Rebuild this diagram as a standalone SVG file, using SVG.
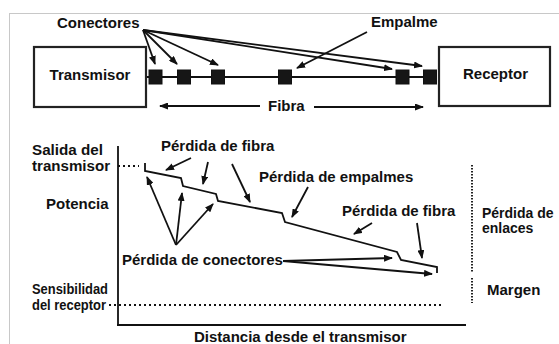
<svg xmlns="http://www.w3.org/2000/svg" width="559" height="344" viewBox="0 0 559 344">
<defs>
<marker id="ah" markerUnits="userSpaceOnUse" markerWidth="9" markerHeight="7" refX="8" refY="3.5" orient="auto">
<path d="M0,0 L9,3.5 L0,7 z" fill="#111"/>
</marker>
<style>
text{font-family:"Liberation Sans",Arial,sans-serif;font-weight:bold;fill:#111;font-size:15px}
.sm{font-size:14px}
.box{fill:#fff;stroke:#222;stroke-width:2.2}
.sq{fill:#161616;stroke:#111;stroke-width:1}
.ln{fill:none;stroke:#111;stroke-width:1.8}
.ar{fill:none;stroke:#111;stroke-width:1.8;marker-end:url(#ah)}
.dot{fill:none;stroke:#111;stroke-width:2;stroke-dasharray:2 3}
</style>
</defs>
<rect width="559" height="344" fill="#fff"/>
<rect x="9.5" y="13.5" width="600" height="400" fill="none" stroke="#c8c8c8" stroke-width="1"/>

<g id="connectors">
<line class="ln" x1="146" y1="77" x2="437" y2="77"/>
<line class="ar" x1="143" y1="30" x2="155" y2="64"/>
<line class="ar" x1="143" y1="30" x2="177" y2="64"/>
<line class="ar" x1="143" y1="30" x2="218" y2="65"/>
<line class="ar" x1="143" y1="30" x2="392" y2="69"/>
<line class="ar" x1="143" y1="30" x2="422" y2="66"/>
<line class="ar" x1="367" y1="32" x2="297" y2="68"/>
<line class="ar" x1="260" y1="106" x2="160" y2="106"/>
<line class="ar" x1="314" y1="107" x2="423" y2="107"/>
<line class="ln" x1="118" y1="146" x2="118" y2="325"/>
<line class="ln" x1="117" y1="325" x2="466" y2="325"/>
<line class="dot" x1="118" y1="166" x2="139" y2="166"/>
<line class="dot" x1="109" y1="305" x2="442" y2="305"/>
<line fill="none" stroke="#222" stroke-width="2" stroke-dasharray="1.5 1.5" x1="472" y1="165" x2="472" y2="272"/>
<line fill="none" stroke="#222" stroke-width="2" stroke-dasharray="1.5 1.5" x1="472" y1="278" x2="472" y2="303"/>
<path class="ln" d="M145,163 V171 L181,178 L183,186 L216,194 L218,201 L282,213 L285,222 L397,252 L401,260 L437,267 V273"/>
<line class="ar" x1="191" y1="158" x2="166" y2="170"/>
<line class="ar" x1="208" y1="162" x2="203" y2="184"/>
<line class="ar" x1="232" y1="164" x2="250" y2="202"/>
<line class="ar" x1="308" y1="187" x2="292" y2="217"/>
<line class="ar" x1="372" y1="223" x2="354" y2="234"/>
<line class="ar" x1="417" y1="223" x2="422" y2="258"/>
<line class="ar" x1="176" y1="245" x2="147" y2="177"/>
<line class="ar" x1="176" y1="245" x2="182" y2="193"/>
<line class="ar" x1="176" y1="245" x2="213" y2="204"/>
<line class="ar" x1="283" y1="261" x2="392" y2="258"/>
<line class="ar" x1="283" y1="261" x2="432" y2="274"/>
</g>

<g id="transmisor">
<rect class="box" x="34" y="47" width="112" height="60"/>
<text x="90" y="80" text-anchor="middle" font-size="15.5">Transmisor</text>
</g>
<g id="receptor">
<rect class="box" x="439" y="47" width="111" height="59"/>
<text x="495.5" y="79" text-anchor="middle" font-size="15.5">Receptor</text>
</g>
<g id="conectores-fisicos">
<rect class="sq" x="149" y="70" width="13" height="14"/>
<rect class="sq" x="177.5" y="70" width="13" height="14"/>
<rect class="sq" x="211.5" y="70" width="13" height="14"/>
<rect class="sq" x="396" y="70" width="13" height="14"/>
<rect class="sq" x="423.5" y="70" width="13" height="14"/>
</g>
<g id="empalme-fisico">
<rect class="sq" x="278.5" y="70" width="13" height="14"/>
</g>

<g id="labels">
<text x="57" y="28" font-size="14.5">Conectores</text>
<text x="371" y="27" font-size="14.5">Empalme</text>
<text x="268" y="111">Fibra</text>
<text class="sm" x="32" y="155" textLength="71" lengthAdjust="spacingAndGlyphs">Salida del</text>
<text class="sm" x="32" y="171" textLength="78" lengthAdjust="spacingAndGlyphs">transmisor</text>
<text x="46" y="209" font-size="14">Potencia</text>
<text class="sm" x="32" y="294" textLength="76" lengthAdjust="spacingAndGlyphs">Sensibilidad</text>
<text class="sm" x="32" y="310" textLength="74" lengthAdjust="spacingAndGlyphs">del receptor</text>
<text x="161" y="151">Pérdida de fibra</text>
<text x="259" y="182">Pérdida de empalmes</text>
<text x="342" y="216">Pérdida de fibra</text>
<text x="122" y="265">Pérdida de conectores</text>
<text class="sm" x="482" y="218">Pérdida de</text>
<text class="sm" x="482" y="233">enlaces</text>
<text x="487" y="295">Margen</text>
<text x="194" y="342">Distancia desde el transmisor</text>
</g>
</svg>
